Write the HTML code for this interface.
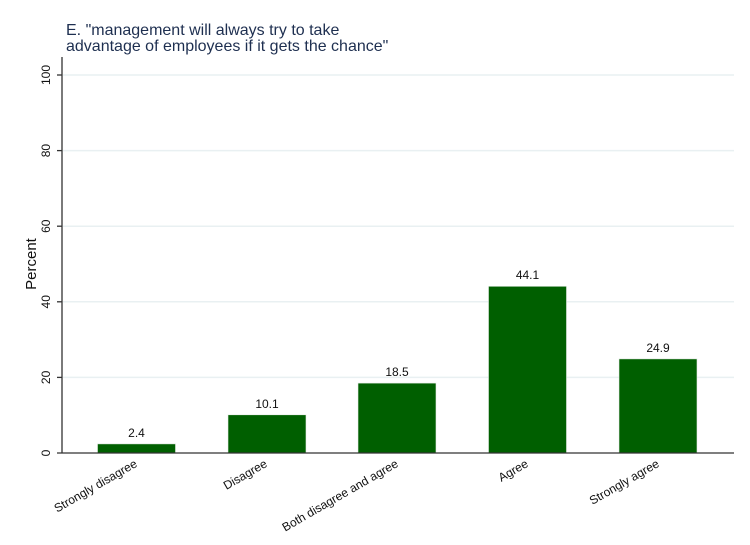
<!DOCTYPE html>
<html><head><meta charset="utf-8"><style>body{margin:0;background:#fff}svg{display:block}</style></head><body>
<svg width="750" height="545" xmlns="http://www.w3.org/2000/svg" font-family="Liberation Sans, Arial, sans-serif">
<rect width="750" height="545" fill="#fff"/>
<text x="66" y="35" font-size="16" fill="#1e2f50">E. "management will always try to take</text>
<text x="66" y="51" font-size="16" fill="#1e2f50">advantage of employees if it gets the chance"</text>
<g stroke="#e9f0f2" stroke-width="1.5">
<line x1="63" x2="734" y1="75" y2="75"/><line x1="63" x2="734" y1="150.6" y2="150.6"/><line x1="63" x2="734" y1="226.2" y2="226.2"/><line x1="63" x2="734" y1="301.8" y2="301.8"/><line x1="63" x2="734" y1="377.4" y2="377.4"/>
</g>
<g fill="#005f00" stroke="#e6ece6" stroke-width="0.6">
<rect x="97.5" y="443.9" width="78" height="9.1"/>
<rect x="228" y="414.8" width="78" height="38.2"/>
<rect x="358" y="383.1" width="78" height="69.9"/>
<rect x="488.5" y="286.3" width="78" height="166.7"/>
<rect x="619" y="358.9" width="78" height="94.1"/>
</g>
<g stroke="#333" stroke-width="1.3">
<line x1="62" x2="62" y1="57" y2="453"/><line x1="57" x2="734" y1="453" y2="453"/>
<line x1="57" x2="62" y1="75" y2="75"/><line x1="57" x2="62" y1="150.6" y2="150.6"/><line x1="57" x2="62" y1="226.2" y2="226.2"/><line x1="57" x2="62" y1="301.8" y2="301.8"/><line x1="57" x2="62" y1="377.4" y2="377.4"/>
</g>
<g font-size="12" fill="#111" text-anchor="middle">
<text transform="translate(50,75) rotate(-90)">100</text>
<text transform="translate(50,150.6) rotate(-90)">80</text>
<text transform="translate(50,226.2) rotate(-90)">60</text>
<text transform="translate(50,301.8) rotate(-90)">40</text>
<text transform="translate(50,377.4) rotate(-90)">20</text>
<text transform="translate(50,453) rotate(-90)">0</text>
<text transform="translate(36,264) rotate(-90)" font-size="15">Percent</text>
<text x="136.5" y="437">2.4</text>
<text x="267" y="408">10.1</text>
<text x="397" y="376">18.5</text>
<text x="527.5" y="279">44.1</text>
<text x="658" y="352">24.9</text>
</g>
<g font-size="12" fill="#111" text-anchor="end">
<text transform="translate(138,466) rotate(-30)">Strongly disagree</text>
<text transform="translate(268,466) rotate(-30)">Disagree</text>
<text transform="translate(399,466) rotate(-30)">Both disagree and agree</text>
<text transform="translate(529,466) rotate(-30)">Agree</text>
<text transform="translate(660,466) rotate(-30)">Strongly agree</text>
</g>
</svg>
</body></html>
